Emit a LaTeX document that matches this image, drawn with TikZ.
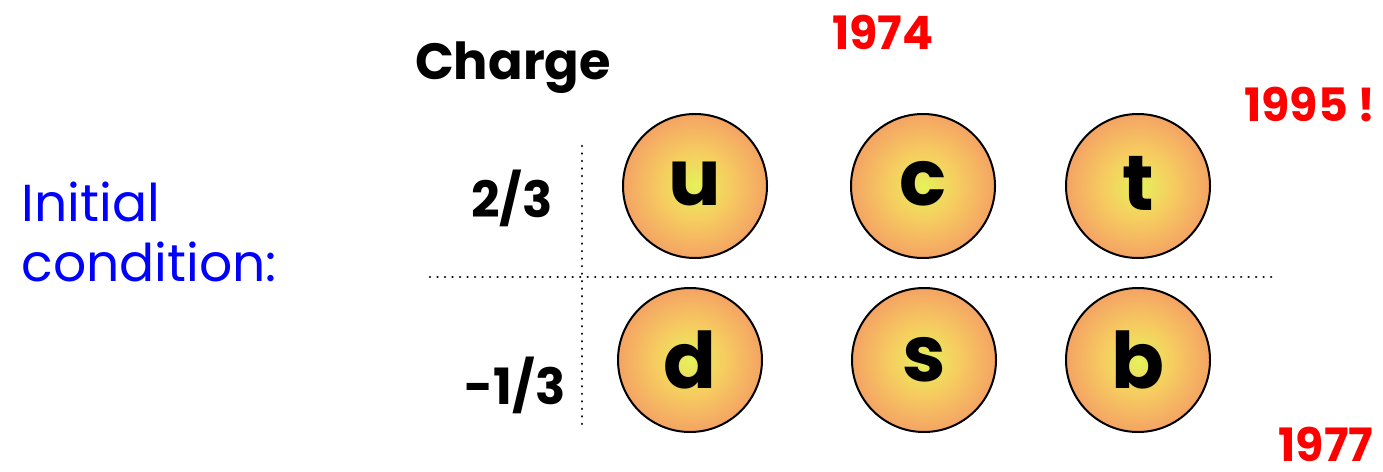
\documentclass[tikz,border=0pt]{standalone}
\usepackage{fontspec}
\setmainfont{Poppins}
\definecolor{ballin}{RGB}{228,242,90}
\definecolor{ballmid}{RGB}{246,204,96}
\definecolor{ballout}{RGB}{243,142,102}
\definecolor{yearred}{RGB}{255,0,0}
\definecolor{initblue}{RGB}{0,0,255}
\pgfdeclareradialshading{quarkball}{\pgfpoint{0bp}{0bp}}{color(0bp)=(ballin); color(12bp)=(ballmid); color(32bp)=(ballout); color(50bp)=(ballout)}
\tikzset{
  quark/.style={circle, draw=black, line width=2pt, minimum size=144pt, inner sep=0pt, shading=quarkball, font=\fontsize{78}{84}\selectfont\bfseries},
  chg/.style={font=\fontsize{50}{56}\selectfont\bfseries},
  year/.style={text=yearred, font=\fontsize{46}{52}\selectfont\bfseries},
  grid/.style={dash pattern=on 0.01pt off 7.5pt, line width=2.6pt, line cap=round},
}
\begin{document}
\begin{tikzpicture}[x=1pt,y=-1pt]
\useasboundingbox (0,0) rectangle (1383,471);
\coordinate (hl) at (430,277);
\coordinate (hr) at (1275,277);
\coordinate (vt) at (582,146);
\coordinate (vb) at (582,430);
\draw[grid] (hl) -- (hr);
\draw[grid] (vt) -- (vb);
\node[quark] (u) at (695,186) {\raisebox{5pt}{u}};
\node[quark] (c) at (923,186) {\raisebox{5pt}{c}};
\node[quark] (t) at (1138,186) {\raisebox{5pt}{t}};
\node[quark] (d) at (690,360) {d};
\node[quark] (s) at (924,360) {s};
\node[quark] (b) at (1138,360) {b};
\node[chg, font=\fontsize{51}{58}\selectfont\bfseries] (charge) at (513,68) {Charge};
\node[chg] (two) at (512,198) {2/3};
\node[chg] (one) at (515,385) {-1/3};
\node[year] (y74) at (883,32) {1974};
\node[year] (y95) at (1310,105) {1995 !};
\node[year, inner sep=0pt, anchor=base] (y77) at (1326,461) {1977};
\node[text=initblue, font=\fontsize{52}{60}\selectfont, align=left, anchor=west] (init) at (18,232) {Initial\\condition:};
\end{tikzpicture}
\end{document}
